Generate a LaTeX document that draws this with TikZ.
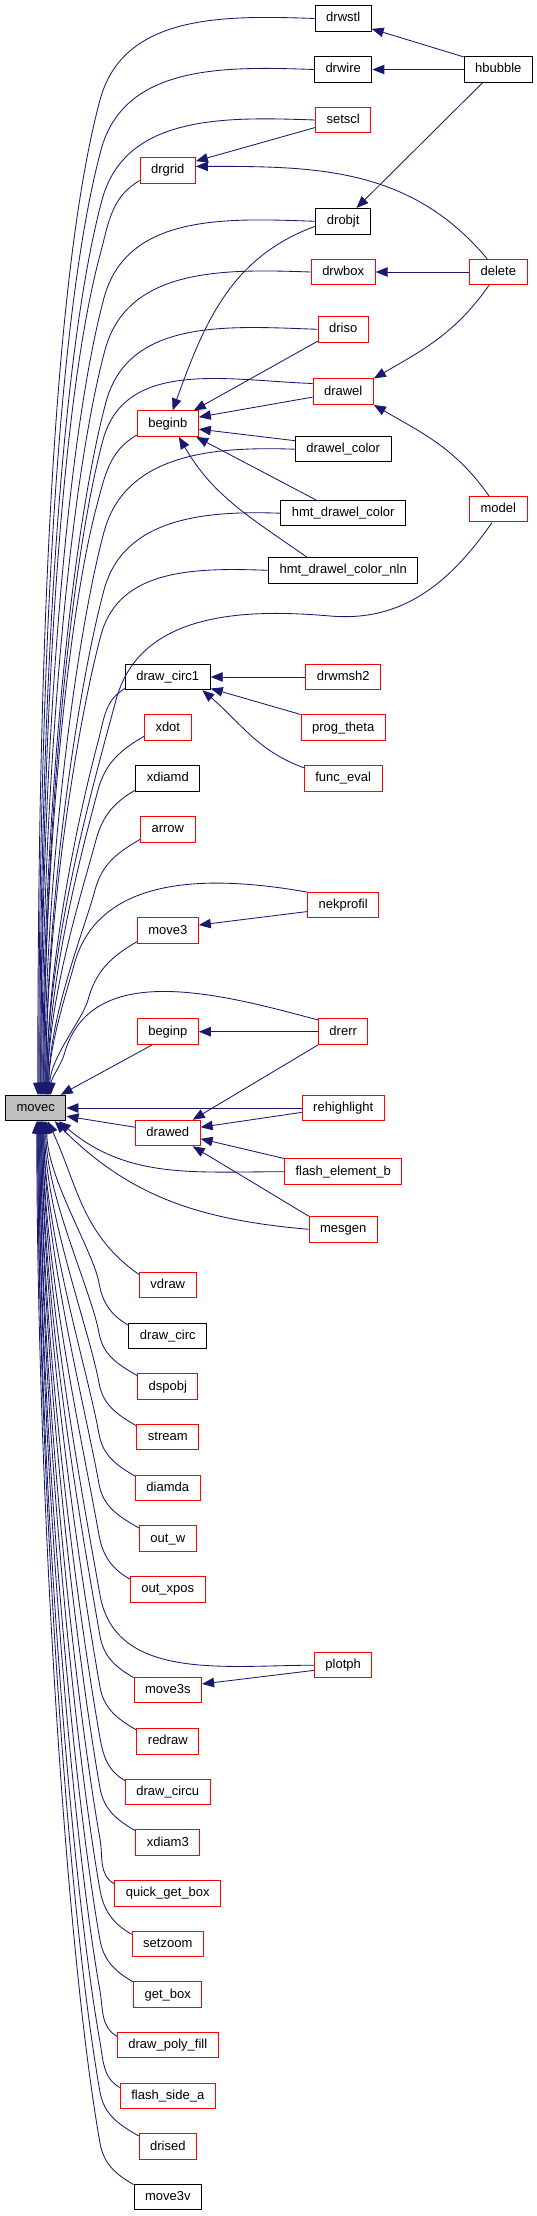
\documentclass[tikz,border=0pt]{standalone}
\usepackage{fontspec}
\setmainfont{Liberation Sans}
\usetikzlibrary{arrows.meta}
\definecolor{callblue}{HTML}{191970}
\definecolor{curgray}{HTML}{BFBFBF}

\begin{document}
\begin{tikzpicture}[
  x=1pt, y=1pt,
  font=\fontsize{13}{15}\selectfont,
  fn/.style={draw=black, line width=1pt, fill=white, minimum height=25.5pt, inner xsep=11pt, inner ysep=0pt, text height=9.5pt, text depth=2.5pt},
  fnred/.style={fn, draw=red},
  fncur/.style={fn, fill=curgray},
  call/.style={draw=callblue, line width=0.85pt, -{Triangle[length=12pt,width=9.5pt]}}
]
  \fill[white] (0,0) rectangle (537,-2216);

  % the function itself
  \node[fncur] (movec) at (35.8,-1108) {movec};

  % callers, left column
  \node[fnred] (drgrid) at (167.8,-170.3) {drgrid};
  \node[fnred] (beginb) at (167.8,-423.7) {beginb};
  \node[fn] (circ1) at (167.8,-677) {draw\_circ1};
  \node[fnred] (xdot) at (167.8,-727.7) {xdot};
  \node[fn] (xdiamd) at (167.8,-778.3) {xdiamd};
  \node[fnred] (arrow) at (167.8,-829.3) {arrow};
  \node[fnred] (move3) at (167.8,-930.5) {move3};
  \node[fnred] (beginp) at (167.8,-1031.7) {beginp};
  \node[fnred] (drawed) at (167.8,-1133) {drawed};
  \node[fnred] (vdraw) at (167.8,-1285) {vdraw};
  \node[fn] (drawcirc) at (167.8,-1335.8) {draw\_circ};
  \node[fnred] (dspobj) at (167.8,-1386.7) {dspobj};
  \node[fnred] (stream) at (167.8,-1437.2) {stream};
  \node[fnred] (diamda) at (167.8,-1488) {diamda};
  \node[fnred] (outw) at (167.8,-1538.5) {out\_w};
  \node[fnred] (outxpos) at (167.8,-1589.3) {out\_xpos};
  \node[fnred] (move3s) at (167.8,-1690) {move3s};
  \node[fnred] (redraw) at (167.8,-1741.3) {redraw};
  \node[fnred] (drawcircu) at (167.8,-1792) {draw\_circu};
  \node[fnred] (xdiam3) at (167.8,-1842.5) {xdiam3};
  \node[fnred] (qgetbox) at (167.8,-1893.3) {quick\_get\_box};
  \node[fnred] (setzoom) at (167.8,-1944) {setzoom};
  \node[fnred] (getbox) at (167.8,-1994.5) {get\_box};
  \node[fnred] (polyfill) at (167.8,-2045.2) {draw\_poly\_fill};
  \node[fnred] (flashsa) at (167.8,-2096) {flash\_side\_a};
  \node[fnred] (drised) at (167.8,-2146.5) {drised};
  \node[fn] (move3v) at (167.8,-2197) {move3v};

  % callers, middle column
  \node[fn] (drwstl) at (343.2,-18.5) {drwstl};
  \node[fn] (drwire) at (343.2,-69.5) {drwire};
  \node[fnred] (setscl) at (343.2,-120) {setscl};
  \node[fn] (drobjt) at (343.2,-221.3) {drobjt};
  \node[fnred] (drwbox) at (343.2,-272) {drwbox};
  \node[fnred] (driso) at (343.2,-329.3) {driso};
  \node[fnred] (drawel) at (343.2,-391.7) {drawel};
  \node[fn] (drawelcol) at (343.2,-449.2) {drawel\_color};
  \node[fn] (hmtcol) at (343.2,-513.2) {hmt\_drawel\_color};
  \node[fn] (hmtnln) at (343.2,-570.3) {hmt\_drawel\_color\_nln};
  \node[fnred] (drwmsh2) at (343.2,-677) {drwmsh2};
  \node[fnred] (progtheta) at (343.2,-727.7) {prog\_theta};
  \node[fnred] (funceval) at (343.2,-778.3) {func\_eval};
  \node[fnred] (nekprofil) at (343.2,-905.2) {nekprofil};
  \node[fnred] (drerr) at (343.2,-1031.7) {drerr};
  \node[fnred] (rehighlight) at (343.2,-1108) {rehighlight};
  \node[fnred] (flashelb) at (343.2,-1171.7) {flash\_element\_b};
  \node[fnred] (mesgen) at (343.2,-1229.3) {mesgen};
  \node[fnred] (plotph) at (343.2,-1665.2) {plotph};

  % callers, right column
  \node[fn] (hbubble) at (498.3,-69.5) {hbubble};
  \node[fnred] (delete) at (498.3,-272) {delete};
  \node[fnred] (model) at (498.3,-509.2) {model};

  % calls into movec from above
  \foreach \src/\oa/\kx/\ky/\xs [evaluate=\ky as \od using 0.2*(1095-\ky), evaluate=\ky as \id using 0.38*(1095-\ky)] in {
      drwstl.west/178/100/100/2, drwire.west/178/101/150/3, setscl.west/178/102/200/4,
      drgrid.200/210/100/255/5, drobjt.west/178/104/298/5, drwbox.west/178/105/350/6,
      driso.west/178/106/402/7, drawel.165/178/103/440/8, beginb.200/210/97/505/8,
      drawelcol.west/178/104/532/9, hmtcol.west/178/104/590/10, hmtnln.west/178/101/635/10,
      circ1.195/210/98/742/11, xdot.200/210/98/790/12, xdiamd.200/210/96/840/12,
      arrow.200/210/95/890/13, nekprofil.160/170/74/965/13, move3.200/210/88/1000/14,
      drerr.155/165/64/1055/15}
    \draw[call] (\src) to[out=\oa,in=75] (\kx,-\ky) .. controls +(255:\od) and +(0,\id) .. ([xshift=\xs pt]movec.north);
  \draw[call] (model.-115) to[out=-125,in=-5] (330,-616) to[out=175,in=75] (116,-700)
    .. controls +(255:79) and +(0,150) .. ([xshift=11pt]movec.north);
  \draw[call] (beginp.220) -- (movec.28);
  \draw[call] (rehighlight.west) -- (movec.east);
  \draw[call] (drawed.170) -- (movec.-15);

  % calls into movec from below
  \draw[call] (flashelb.west) to[out=180,in=-40] (movec.-30);
  \draw[call] (mesgen.west) to[out=175,in=-45] (movec.-35);
  \draw[call] (vdraw.160) to[out=145,in=-65] ([xshift=12pt]movec.south);
  \foreach \src/\oa/\kx/\ky/\xs [evaluate=\ky as \od using 0.2*(\ky-1121), evaluate=\ky as \id using 0.35*(\ky-1121)] in {
      drawcirc.165/150/99/1283/11, dspobj.160/150/99/1333/10, stream.160/150/99/1383/9,
      diamda.160/150/99/1434/8, outw.160/150/99/1484/8, outxpos.165/150/99/1535/7,
      plotph.west/180/100/1595/7, move3s.160/150/100/1636/6, redraw.160/150/100/1687/6,
      drawcircu.165/150/100/1738/5, xdiam3.160/150/100/1788/5, qgetbox.170/150/100/1839/4,
      setzoom.165/150/100/1890/4, getbox.160/150/100/1940/3, polyfill.170/150/100/1991/3,
      flashsa.170/150/100/2042/2, drised.160/150/100/2092/2, move3v.160/150/100/2143/1}
    \draw[call] (\src) to[out=\oa,in=-80] (\kx,-\ky) .. controls +(100:\od) and +(0,-\id) .. ([xshift=\xs pt]movec.south);

  % calls between the callers
  \draw[call] (hbubble.160) -- (drwstl.-20);
  \draw[call] (hbubble.west) -- (drwire.east);
  \draw[call] (hbubble.-140) -- (drobjt.45);
  \draw[call] (setscl.195) -- (drgrid.18);
  \draw[call] (delete.130) to[out=130,in=0] (drgrid.8);
  \draw[call] (delete.west) -- (drwbox.east);
  \draw[call] (delete.-125) to[out=-125,in=30] (drawel.north east);
  \draw[call] (model.125) to[out=125,in=-30] (drawel.south east);
  \draw[call] (drobjt.190) to[out=200,in=70] (beginb.70);
  \draw[call] (driso.205) -- (beginb.27);
  \draw[call] (drawel.190) -- (beginb.12);
  \draw[call] (drawelcol.170) -- (beginb.-10);
  \draw[call] (hmtcol.154) -- (beginb.-25);
  \draw[call] (hmtnln.160) to[out=145,in=-60] (beginb.-50);
  \draw[call] (drwmsh2.west) -- (circ1.east);
  \draw[call] (progtheta.north west) -- (circ1.-15);
  \draw[call] (funceval.165) to[out=160,in=-40] (circ1.-21);
  \draw[call] (nekprofil.190) -- (move3.10);
  \draw[call] (drerr.west) -- (beginp.east);
  \draw[call] (drerr.south west) -- (drawed.28);
  \draw[call] (rehighlight.186) -- (drawed.10);
  \draw[call] (flashelb.north west) -- (drawed.-10);
  \draw[call] (mesgen.north west) -- (drawed.-28);
  \draw[call] (plotph.190) -- (move3s.10);
\end{tikzpicture}
\end{document}
